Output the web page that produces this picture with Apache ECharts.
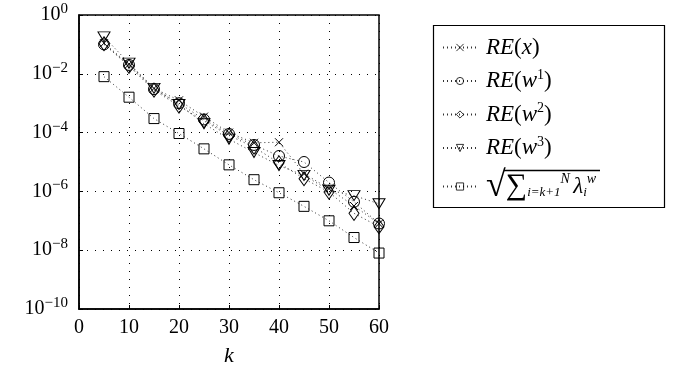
<!DOCTYPE html>
<html><head><meta charset="utf-8">
<script src="https://cdn.jsdelivr.net/npm/echarts@6/dist/echarts.min.js"></script>
<style>html,body{margin:0;padding:0;background:#fff}#c{width:675px;height:372px}</style>
</head><body><div id="c"></div>
<script>
const kValues = [5,10,15,20,25,30,35,40,45,50,55,60];
const reX  = [1.1e-1,2.1e-2,3.2e-3,1.25e-3,3.5e-4,1.0e-4,4.5e-5,4.7e-5,4.0e-6,1.25e-6,3.2e-7,8.0e-8];
const reW1 = [1.0e-1,2.0e-2,3.0e-3,1.0e-3,2.8e-4,9.0e-5,3.8e-5,1.6e-5,1.0e-5,2.0e-6,4.4e-7,8.1e-8];
const reW2 = [1.05e-1,1.8e-2,2.8e-3,8.0e-4,2.5e-4,8.0e-5,3.2e-5,9.3e-6,2.7e-6,9.5e-7,1.8e-7,6.3e-8];
const reW3 = [1.8e-1,2.3e-2,3.2e-3,9.0e-4,2.0e-4,6.0e-5,2.1e-5,7.6e-6,3.5e-6,1.1e-6,7.2e-7,3.8e-7];
const sqrtLam = [8.0e-3,1.6e-3,3.0e-4,9.3e-5,2.8e-5,8.0e-6,2.5e-6,9.0e-7,3.1e-7,1.0e-7,2.7e-8,8.0e-9];
const seriesNames = ['RE(x)','RE(w1)','RE(w2)','RE(w3)','sqrt'];
const xTicks = [0,10,20,30,40,50,60];

const serif = '"Liberation Serif", "DejaVu Serif", serif';
const chart = echarts.init(document.getElementById('c'));
function mk(name, data, symbol, size) {
  return {
    name: name, type: 'line',
    data: kValues.map((k, i) => [k, data[i]]),
    symbol: symbol, symbolSize: size,
    showAllSymbol: true,
    itemStyle: { color: 'rgba(0,0,0,0)', borderColor: '#000', borderWidth: 1 },
    lineStyle: { color: '#333', width: 1, type: [1, 3] },
    emphasis: { disabled: true },
    z: 3
  };
}
const rich = {
  i: { fontFamily: serif, fontStyle: 'italic', fontSize: 23, color: '#000' },
  n: { fontFamily: serif, fontSize: 23, color: '#000' },
  sup: { fontFamily: serif, fontSize: 14, color: '#000', padding: [0,0,12,0] },
  supi: { fontFamily: serif, fontSize: 14, fontStyle: 'italic', color: '#000', padding: [0,0,14,0] },
  sub: { fontFamily: serif, fontSize: 13, color: '#000', fontStyle: 'italic', padding: [12,0,0,0] },
  big: { fontFamily: serif, fontSize: 30, color: '#000' },
  sq: { fontFamily: serif, fontSize: 36, color: '#000' }
};
const option = {
  animation: false,
  backgroundColor: '#fff',
  grid: { left: 79, right: 296, top: 15, bottom: 61, show: true, borderColor: '#000', borderWidth: 1.5, backgroundColor: 'transparent' },
  xAxis: {
    type: 'value', min: 0, max: 60, interval: 10,
    name: 'k', nameLocation: 'middle', nameGap: 36,
    nameTextStyle: { fontFamily: serif, fontStyle: 'italic', fontSize: 22, color: '#000' },
    axisLine: { show: true, lineStyle: { color: '#000', width: 1.5 } },
    axisTick: { show: true, inside: true, length: 4, lineStyle: { color: '#000' } },
    axisLabel: { fontFamily: serif, fontSize: 20, color: '#000', margin: 9 },
    splitLine: { show: true, lineStyle: { color: '#000', width: 1, type: [1, 7] } }
  },
  yAxis: {
    type: 'log', logBase: 10, min: 1e-10, max: 1, interval: 2,
    axisLine: { show: true, lineStyle: { color: '#000', width: 1.5 } },
    axisTick: { show: true, inside: true, length: 4, lineStyle: { color: '#000' } },
    axisLabel: {
      margin: 11,
      formatter: function (v) {
        const e = Math.round(Math.log10(v));
        return '{b|10}{s|' + (e < 0 ? '\u2212' + (-e) : e) + '}';
      },
      rich: {
        b: { fontFamily: serif, fontSize: 20, color: '#000' },
        s: { fontFamily: serif, fontSize: 15, color: '#000', padding: [0,0,12,0] }
      }
    },
    splitLine: { show: true, lineStyle: { color: '#000', width: 1, type: [1, 7] } }
  },
  legend: {
    orient: 'vertical', left: 437, top: 31, itemGap: 9, itemWidth: 34, itemHeight: 9,
    data: seriesNames,
    itemStyle: { borderWidth: 0.8 },
    formatter: function (n) {
      if (n === 'RE(x)') return '{i|RE}{n|(}{i|x}{n|)}';
      if (n === 'RE(w1)') return '{i|RE}{n|(}{i|w}{sup|1}{n|)}';
      if (n === 'RE(w2)') return '{i|RE}{n|(}{i|w}{sup|2}{n|)}';
      if (n === 'RE(w3)') return '{i|RE}{n|(}{i|w}{sup|3}{n|)}';
      return '{sq|\u221A}{big|\u2211}{sub|i=k+1}{supi|N} {i|\u03BB}{sub|i}{supi|w}';
    },
    textStyle: { rich: rich, padding: [0,0,0,4] }
  },
  graphic: [
    { type: 'rect', shape: { x: 433.5, y: 25.5, width: 231, height: 182 }, style: { fill: 'none', stroke: '#000', lineWidth: 1.2 }, silent: true },
    { type: 'line', shape: { x1: 504, y1: 170.5, x2: 600, y2: 170.5 }, style: { stroke: '#000', lineWidth: 1.5 }, silent: true }
  ],
  series: [
    mk('RE(x)', reX, 'path://M0,0L10,10M10,0L0,10', 8),
    mk('RE(w1)', reW1, 'circle', 11),
    mk('RE(w2)', reW2, 'diamond', [10, 14]),
    mk('RE(w3)', reW3, 'path://M0,0L12,0L6,10Z', [12, 10]),
    mk('sqrt', sqrtLam, 'rect', 10)
  ]
};
chart.setOption(option);
</script>
</body></html>
